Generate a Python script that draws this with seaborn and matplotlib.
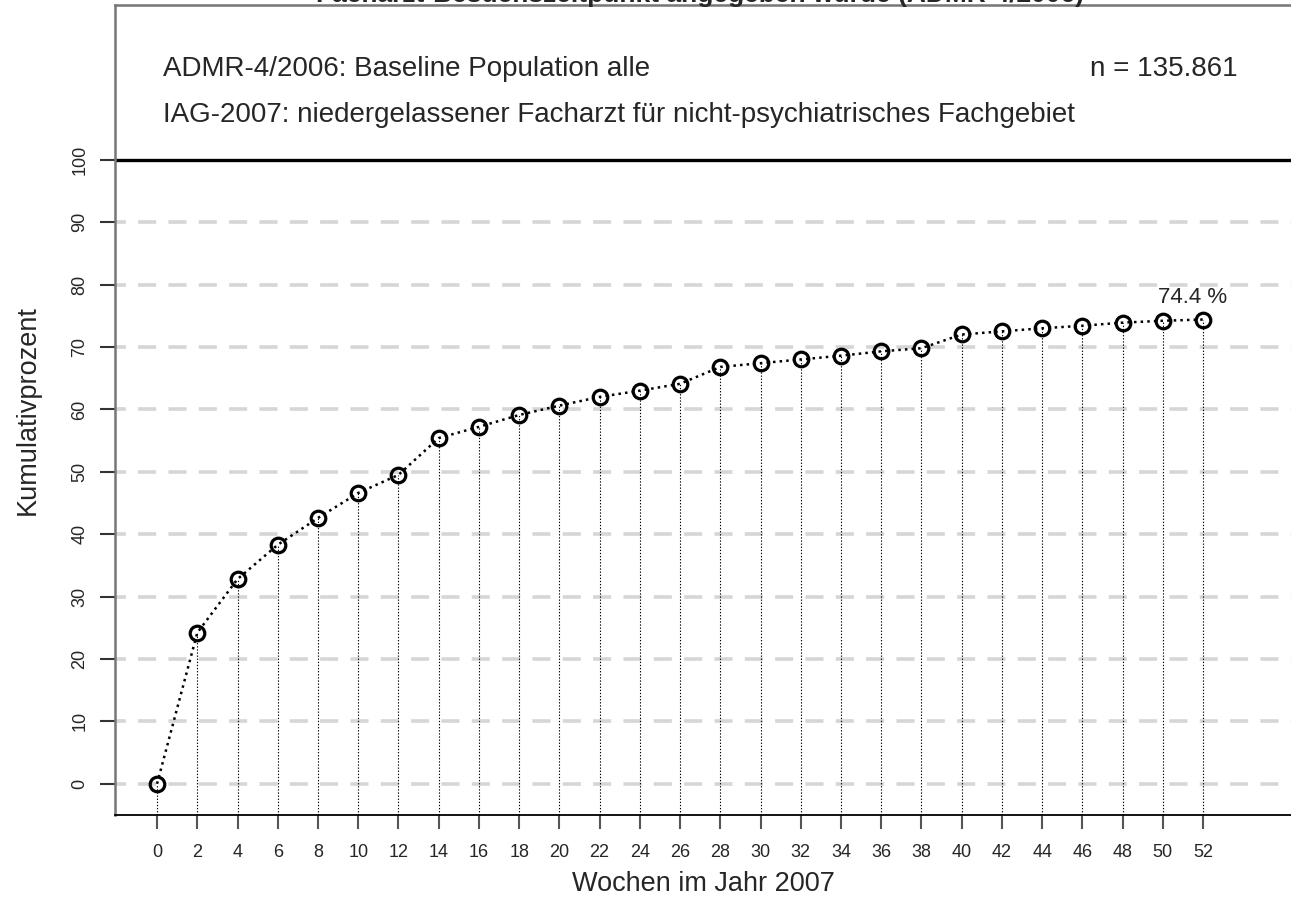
import matplotlib
matplotlib.use("Agg")
import matplotlib.pyplot as plt
import seaborn as sns
import pandas as pd

weeks = [0, 2, 4, 6, 8, 10, 12, 14, 16, 18, 20, 22, 24, 26, 28, 30, 32, 34, 36, 38, 40, 42, 44, 46, 48, 50, 52]
kumulativ = [0.0, 24.2, 32.8, 38.3, 42.6, 46.6, 49.5, 55.4, 57.2, 59.1, 60.6, 62.0, 63.0, 64.1,
             66.8, 67.4, 68.0, 68.6, 69.3, 69.8, 72.0, 72.5, 73.0, 73.4, 73.9, 74.2, 74.4]
y_ticks = [0, 10, 20, 30, 40, 50, 60, 70, 80, 90, 100]
title_text = "Facharzt-Besuchszeitpunkt angegeben wurde (ADMR-4/2006)"
line1 = "ADMR-4/2006: Baseline Population alle"
line2 = "IAG-2007: niedergelassener Facharzt für nicht-psychiatrisches Fachgebiet"
n_text = "n = 135.861"
end_label = "74.4 %"
x_label = "Wochen im Jahr 2007"
y_label = "Kumulativprozent"

sns.set_style("white")
plt.rcParams['font.family'] = ['Liberation Sans', 'DejaVu Sans']

df = pd.DataFrame({"Woche": weeks, "Prozent": kumulativ})

fig = plt.figure(figsize=(12.91, 9.13), dpi=100)
ax = fig.add_axes([115 / 1291, 1 - 815 / 913, 1 - 115 / 1291, (815 - 5) / 913])

# grid lines
for yv in y_ticks[:-1]:
    ax.axhline(yv, color="#d6d6d6", lw=2.6, linestyle=(2, (5.0, 3.4)), zorder=0)
ax.axhline(100, color="black", lw=2.4, zorder=1)

# drop lines
ax.vlines(df["Woche"], -5, df["Prozent"], colors="black", linestyles=(0, (1.2, 1.6)), lw=0.8, zorder=2)

sns.lineplot(data=df, x="Woche", y="Prozent", ax=ax, color="black", linestyle=":", lw=1.8,
             marker="o", markersize=10.5, markerfacecolor="none", markeredgecolor="black",
             markeredgewidth=2.3, zorder=3)

ax.set_xlim(-2.09, 56.37)
ax.set_ylim(-5, 124.8)
ax.set_xticks(weeks)
ax.set_xticklabels([str(w) for w in weeks], fontsize=13)
ax.set_yticks(y_ticks)
ax.set_yticklabels([str(v) for v in y_ticks], fontsize=13, rotation=90, va="center")
ax.tick_params(axis="y", length=11, width=1.5, color="#333333", pad=8, left=True)
ax.tick_params(axis="x", length=10, width=1.5, color="#555555", pad=11, bottom=True)

ax.set_xlabel(x_label, fontsize=19.5, labelpad=7)
ax.set_ylabel(y_label, fontsize=19.5, labelpad=22)

for s in ["left", "top"]:
    ax.spines[s].set_color("#777777")
    ax.spines[s].set_linewidth(1.8)
ax.spines["bottom"].set_color("black")
ax.spines["bottom"].set_linewidth(1.3)
ax.spines["right"].set_visible(False)

ax.text(0.3, 114.6, line1, fontsize=20, va="center", ha="left")
ax.text(0.3, 107.2, line2, fontsize=20, va="center", ha="left")
ax.text(53.7, 114.6, n_text, fontsize=20, va="center", ha="right")
ax.text(51.5, 78.0, end_label, fontsize=16, va="center", ha="center")

fig.text(700 / 1291, 1 - 2 / 913, title_text, fontsize=19, fontweight="bold",
         ha="center", va="baseline")

fig.savefig("out.png", dpi=100)
